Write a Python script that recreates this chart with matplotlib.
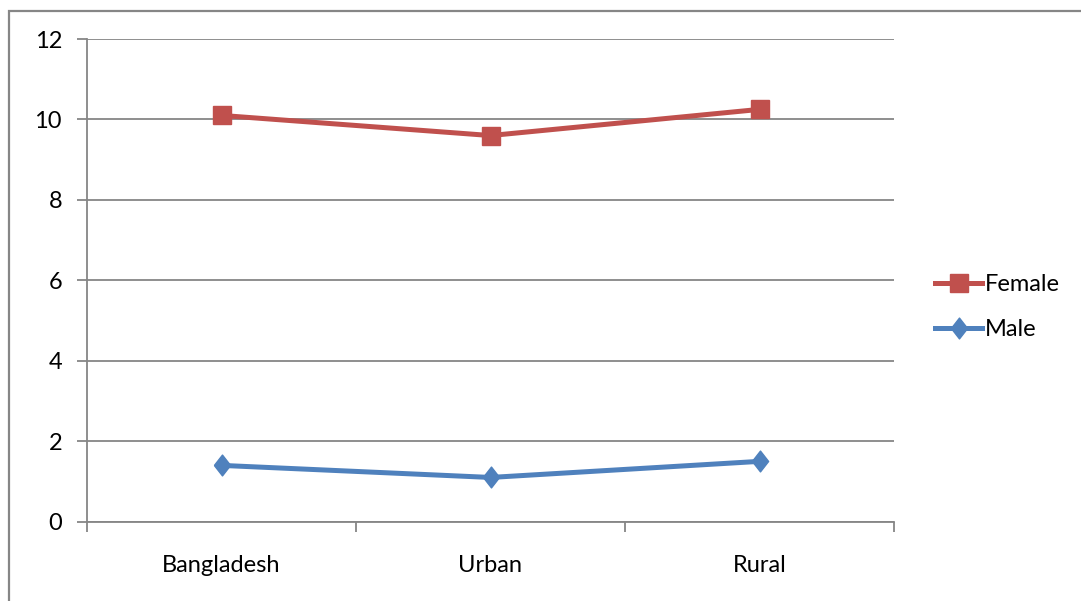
import matplotlib
matplotlib.use("Agg")
import matplotlib.pyplot as plt
from matplotlib.patches import Rectangle

categories = ["Bangladesh", "Urban", "Rural"]
female = [10.1, 9.6, 10.25]
male = [1.4, 1.1, 1.5]
y_ticks = [0, 2, 4, 6, 8, 10, 12]

RED = "#C0504D"
BLUE = "#4F81BD"
GRID = "#868686"

plt.rcParams["font.family"] = ["Lato", "DejaVu Sans"]

fig = plt.figure(figsize=(10.81, 6.01), dpi=100)
ax = fig.add_axes([87 / 1081, 1 - 521.7 / 601, (894 - 87) / 1081, (521.7 - 39) / 601])

# chart-area frame
fig.patches.append(Rectangle((9 / 1081, -0.05), 1.1, 1 - 11 / 601 + 0.05,
                             transform=fig.transFigure, fill=False,
                             edgecolor=GRID, linewidth=1.6, zorder=0))

diamond = [(-0.78, 0), (0, 1), (0.78, 0), (0, -1), (-0.78, 0)]
x = list(range(len(categories)))

ax.plot(x, female, color=RED, linewidth=3.6, marker="s", markersize=13.5,
        markerfacecolor=RED, markeredgecolor=RED, label="Female", zorder=3)
ax.plot(x, male, color=BLUE, linewidth=3.6, marker=diamond, markersize=15,
        markerfacecolor=BLUE, markeredgecolor=BLUE, label="Male", zorder=3)

ax.set_xlim(-0.5, len(categories) - 0.5)
ax.set_ylim(0, 12)
ax.set_yticks(y_ticks)
ax.set_yticklabels([str(v) for v in y_ticks], fontsize=17)
ax.set_xticks(x)
ax.set_xticklabels(categories, fontsize=17)
ax.set_xticks([i - 0.5 for i in range(len(categories) + 1)], minor=True)

ax.tick_params(axis="x", which="major", length=0, pad=24)
ax.tick_params(axis="x", which="minor", length=7, width=1.3, color=GRID, direction="out")
ax.tick_params(axis="y", length=7, width=1.3, color=GRID, direction="out", pad=11)

ax.grid(axis="y", color=GRID, linewidth=1.3)
ax.set_axisbelow(True)
for side in ("top", "right"):
    ax.spines[side].set_visible(False)
for side in ("left", "bottom"):
    ax.spines[side].set_color(GRID)
    ax.spines[side].set_linewidth(1.3)

leg = fig.legend(loc="center left", bbox_to_anchor=(914 / 1081, 1 - 307 / 601),
                 frameon=False, fontsize=17, handlelength=2.0, handletextpad=0.1,
                 labelspacing=1.0)

fig.savefig("out.png", dpi=100)
